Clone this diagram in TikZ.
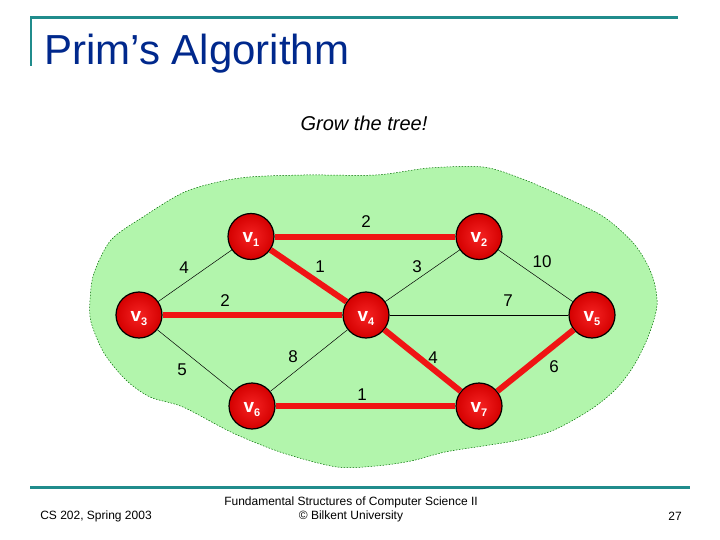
\documentclass[tikz,border=0pt]{standalone}
\usepackage{fontspec}
\setmainfont{Liberation Sans}
\usepackage{xcolor}
\usepackage{tikz}

\definecolor{slideteal}{RGB}{32,140,140}
\definecolor{titleblue}{RGB}{0,40,140}
\definecolor{blobfill}{RGB}{178,245,172}
\definecolor{blobline}{RGB}{0,110,0}
\definecolor{treered}{RGB}{240,20,20}
\definecolor{vertinner}{RGB}{245,35,35}
\definecolor{vertouter}{RGB}{212,0,0}

\newcommand{\vlabel}[1]{v\raisebox{-4pt}{\fontsize{11}{11}\selectfont #1}}

\begin{document}
\begin{tikzpicture}[x=1pt, y=-1pt,
    vert/.style={circle, draw=black, line width=1.2pt, minimum size=46pt,
      inner sep=0pt, shading=radial, inner color=vertinner,
      outer color=vertouter, text=white, text height=13pt, text depth=0pt,
      font=\fontsize{19}{19}\selectfont\bfseries},
    wt/.style={font=\fontsize{17}{17}\selectfont},
    tree/.style={line width=6pt, treered},
    plain/.style={line width=0.5pt, black},
    foot/.style={font=\fontsize{12}{14}\selectfont, align=center}]
    \useasboundingbox (0,0) rectangle (720,540);

    % Slide frame
    \draw[slideteal, line width=3pt] (30,18) -- (678,18);
    \draw[slideteal, line width=2pt] (31,17) -- (31,66);
    \draw[slideteal, line width=3pt] (30,487) -- (690,487);

    % Title and caption
    \node[anchor=base west, inner sep=0pt, titleblue,
      font=\fontsize{42}{42}\selectfont] (title) at (44,65) {Prim’s Algorithm};
    \node[font=\fontsize{20}{20}\selectfont\itshape] (caption) at (364,123)
      {Grow the tree!};

    % Green region
    \draw[blobline, fill=blobfill, line width=0.5pt, dash pattern=on 1.5pt off 1.5pt]
      plot[smooth cycle, tension=0.5] coordinates {
        (90,300) (94,273) (111,240) (143,217) (187,191) (240,178) (304,175)
        (376,175) (429,168) (483,167) (520,178) (562,196) (604,217) (635,245)
        (652,275) (657,305) (648,337) (633,367) (615,390) (590,410) (554,430)
        (519,440) (483,446) (445,452) (411,461) (376,466) (337,467) (283,453)
        (233,433) (183,407) (150,397) (126,380) (104,353) (91,322)};

    % Vertices
    \node[vert] (v1) at (251,236.5) {\vlabel{1}};
    \node[vert] (v2) at (479,236.5) {\vlabel{2}};
    \node[vert] (v3) at (139,315) {\vlabel{3}};
    \node[vert] (v4) at (366,315) {\vlabel{4}};
    \node[vert] (v5) at (592,315) {\vlabel{5}};
    \node[vert] (v6) at (252,406) {\vlabel{6}};
    \node[vert] (v7) at (479,406) {\vlabel{7}};

    % Edges
    \draw[plain] (v1) -- (v3);
    \draw[plain] (v2) -- (v4);
    \draw[plain] (v2) -- (v5);
    \draw[plain] (v4) -- (v5);
    \draw[plain] (v4) -- (v6);
    \draw[plain] (v3) -- (v6);
    \draw[tree] (v1) -- (v2);
    \draw[tree] (v1) -- (v4);
    \draw[tree] (v3) -- (v4);
    \draw[tree] (v4) -- (v7);
    \draw[tree] (v6) -- (v7);
    \draw[tree] (v5) -- (v7);

    % Weights
    \node[wt] (w12) at (366,222) {2};
    \node[wt] (w13) at (184,268) {4};
    \node[wt] (w14) at (320,267) {1};
    \node[wt] (w24) at (417,267) {3};
    \node[wt] (w25) at (542,262) {10};
    \node[wt] (w34) at (225,301) {2};
    \node[wt] (w45) at (508,301) {7};
    \node[wt] (w36) at (182,370) {5};
    \node[wt] (w46) at (293,357) {8};
    \node[wt] (w47) at (433,358) {4};
    \node[wt] (w57) at (554,367) {6};
    \node[wt] (w67) at (362,395) {1};

    % Footer
    \node[foot] (course) at (96,516) {CS 202, Spring 2003};
    \node[foot] (book) at (351,509)
      {Fundamental Structures of Computer Science II\\© Bilkent University};
    \node[foot] (page) at (675,516) {27};
  \end{tikzpicture}
\end{document}
